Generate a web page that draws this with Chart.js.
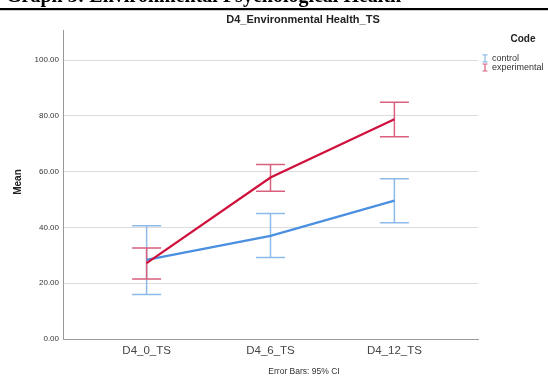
<!DOCTYPE html>
<html>
<head>
<meta charset="utf-8">
<script src="https://cdn.jsdelivr.net/npm/chart.js@4.4.0/dist/chart.umd.min.js"></script>
<style>
html, body { margin: 0; padding: 0; background: #fff; }
canvas { display: block; }
</style>
</head>
<body>
<canvas id="chart" width="548" height="379"></canvas>
<script>
// values
const categories = ['D4_0_TS', 'D4_6_TS', 'D4_12_TS'];
const groups = ['control', 'experimental'];
const controlMean = [28.4, 37.0, 49.6];
const controlLow = [16.0, 29.2, 41.7];
const controlHigh = [40.6, 45.0, 57.5];
const expMean = [27.2, 57.9, 78.8];
const expLow = [21.5, 53.0, 72.5];
const expHigh = [32.6, 62.6, 84.9];
const yTicks = [0, 20, 40, 60, 80, 100];

const lineColors = ['#4a8fe0', '#d0113c'];
const barColors = ['#8dbaea', '#d8607d'];
const lows = [controlLow, expLow];
const highs = [controlHigh, expHigh];

// error bars (95% CI) drawn under the lines
const errorBars = {
    id: 'errorBars',
    beforeDatasetsDraw(chart) {
        const ctx = chart.ctx;
        const x = chart.scales.x;
        const y = chart.scales.y;
        ctx.save();
        ctx.lineWidth = 1.5;
        for (let g = 0; g < groups.length; g++) {
            ctx.strokeStyle = barColors[g];
            for (let i = 0; i < categories.length; i++) {
                const px = x.getPixelForValue(i);
                const top = y.getPixelForValue(highs[g][i]);
                const bot = y.getPixelForValue(lows[g][i]);
                ctx.beginPath();
                ctx.moveTo(px, top);
                ctx.lineTo(px, bot);
                ctx.moveTo(px - 14.5, top);
                ctx.lineTo(px + 14.5, top);
                ctx.moveTo(px - 14.5, bot);
                ctx.lineTo(px + 14.5, bot);
                ctx.stroke();
            }
        }
        ctx.restore();
    }
};

// texts around the chart
const decorations = {
    id: 'decorations',
    afterDraw(chart) {
        const ctx = chart.ctx;
        ctx.save();
        // cut-off caption of the document above
        ctx.fillStyle = '#000';
        ctx.font = 'bold 20px "Liberation Serif"';
        ctx.textAlign = 'left';
        ctx.textBaseline = 'alphabetic';
        ctx.fillText('Graph 3: Environmental Psychological Health', 6, 1.5);
        ctx.fillRect(0, 8, 548, 2.2);

        ctx.fillStyle = '#222';
        ctx.font = 'bold 11px "Liberation Sans"';
        ctx.textAlign = 'center';
        ctx.textBaseline = 'middle';
        ctx.fillText('D4_Environmental Health_TS', 303, 20);

        // y title
        ctx.save();
        ctx.translate(18, 182);
        ctx.rotate(-Math.PI / 2);
        ctx.font = 'bold 10px "Liberation Sans"';
        ctx.fillText('Mean', 0, 0);
        ctx.restore();

        ctx.fillStyle = '#333';
        ctx.font = '8.5px "Liberation Sans"';
        ctx.fillText('Error Bars: 95% CI', 304, 372);

        // legend
        ctx.fillStyle = '#222';
        ctx.font = 'bold 10px "Liberation Sans"';
        ctx.fillText('Code', 523, 39);
        ctx.font = '9px "Liberation Sans"';
        ctx.textAlign = 'left';
        const ly = [58.3, 67.5];
        for (let g = 0; g < groups.length; g++) {
            ctx.strokeStyle = barColors[g];
            ctx.lineWidth = 1.2;
            ctx.beginPath();
            ctx.moveTo(485, ly[g] - 3.5);
            ctx.lineTo(485, ly[g] + 3.5);
            ctx.moveTo(482.5, ly[g] - 3.5);
            ctx.lineTo(487.5, ly[g] - 3.5);
            ctx.moveTo(482.5, ly[g] + 3.5);
            ctx.lineTo(487.5, ly[g] + 3.5);
            ctx.stroke();
            ctx.fillStyle = '#333';
            ctx.fillText(groups[g], 492, ly[g]);
        }
        ctx.restore();
    }
};

new Chart(document.getElementById('chart'), {
    type: 'line',
    data: {
        datasets: [
            {
                label: groups[0],
                data: controlMean.map((v, i) => ({ x: i, y: v })),
                borderColor: lineColors[0],
                borderWidth: 2.3,
                pointRadius: 0,
                order: 2
            },
            {
                label: groups[1],
                data: expMean.map((v, i) => ({ x: i, y: v })),
                borderColor: lineColors[1],
                borderWidth: 2.3,
                pointRadius: 0,
                order: 1
            }
        ]
    },
    options: {
        responsive: false,
        animation: false,
        layout: { padding: { left: 0, top: 30, right: 70, bottom: 0 } },
        plugins: { legend: { display: false }, tooltip: { enabled: false } },
        scales: {
            x: {
                type: 'linear',
                min: -0.675,
                max: 2.675,
                afterBuildTicks(scale) {
                    scale.ticks = categories.map((c, i) => ({ value: i }));
                },
                afterFit(scale) { scale.height = 40; },
                grid: { display: false, drawTicks: false },
                border: { color: '#999', width: 1 },
                ticks: {
                    padding: 5,
                    color: '#444',
                    font: { family: 'Liberation Sans', size: 11.5 },
                    maxRotation: 0,
                    callback: (v) => categories[v]
                }
            },
            y: {
                min: 0,
                max: 110.8,
                afterBuildTicks(scale) {
                    scale.ticks = yTicks.map(v => ({ value: v }));
                },
                afterFit(scale) { scale.width = 63; },
                grid: { color: '#dcdcdc', lineWidth: 1, drawTicks: false },
                border: { color: '#999', width: 1 },
                ticks: {
                    padding: 4,
                    color: '#333',
                    font: { family: 'Liberation Sans', size: 8 },
                    callback: (v) => v.toFixed(2)
                }
            }
        }
    },
    plugins: [errorBars, decorations]
});
</script>
</body>
</html>
